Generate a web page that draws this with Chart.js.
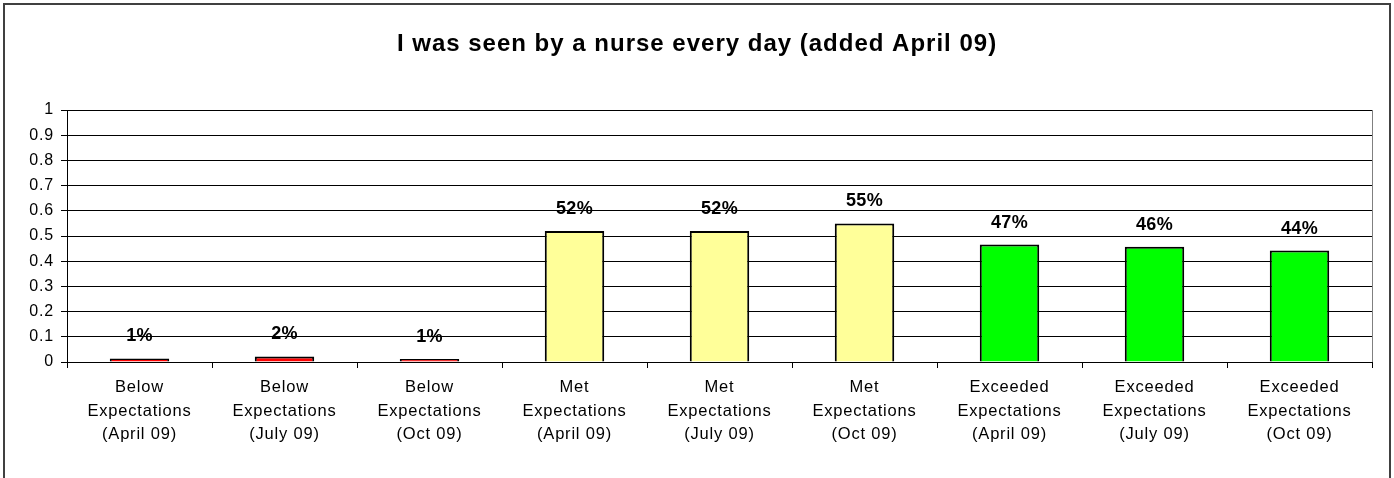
<!DOCTYPE html>
<html>
<head>
<meta charset="utf-8">
<script src="https://cdn.jsdelivr.net/npm/chart.js@4"></script>
<style>
  html, body { margin: 0; padding: 0; background: #fff; }
  #wrap { position: relative; width: 1394px; height: 478px; }
  #frame { position: absolute; left: 3px; top: 3px; width: 1384px; height: 480px;
           border: 2px solid #404040; border-bottom: none; pointer-events: none; }
</style>
</head>
<body>
<div id="wrap">
  <canvas id="chart" width="1394" height="478"></canvas>
  <div id="frame"></div>
</div>
<script>
const title = 'I was seen by a nurse every day (added April 09)';
const categories = [
    ['Below', 'Expectations', '(April 09)'],
    ['Below', 'Expectations', '(July 09)'],
    ['Below', 'Expectations', '(Oct 09)'],
    ['Met', 'Expectations', '(April 09)'],
    ['Met', 'Expectations', '(July 09)'],
    ['Met', 'Expectations', '(Oct 09)'],
    ['Exceeded', 'Expectations', '(April 09)'],
    ['Exceeded', 'Expectations', '(July 09)'],
    ['Exceeded', 'Expectations', '(Oct 09)']
];
const values = [0.014, 0.022, 0.007, 0.52, 0.52, 0.55, 0.466, 0.457, 0.442];
const barColors = ['#FF0000', '#FF0000', '#FF0000',
                   '#FFFF99', '#FFFF99', '#FFFF99',
                   '#00FF00', '#00FF00', '#00FF00'];
const yTicks = [0, 0.1, 0.2, 0.3, 0.4, 0.5, 0.6, 0.7, 0.8, 0.9, 1];

const FONT = 'Arial, "Liberation Sans", sans-serif';

// Excel-ish wide text: spacing for the axis labels
const spacing = {
    id: 'spacing',
    beforeDraw(chart) {
        chart.ctx.letterSpacing = '0.8px';
    }
};

// title + percentage labels above each bar
const texts = {
    id: 'texts',
    afterDatasetsDraw(chart) {
        const ctx = chart.ctx;
        const meta = chart.getDatasetMeta(0);
        ctx.save();
        ctx.fillStyle = '#000';
        ctx.textAlign = 'center';
        ctx.textBaseline = 'middle';

        ctx.letterSpacing = '0.3px';
        ctx.font = 'bold 18px ' + FONT;
        meta.data.forEach((bar, i) => {
            ctx.fillText(Math.round(values[i] * 100) + '%', bar.x, bar.y - 22);
        });

        ctx.letterSpacing = '1px';
        ctx.font = 'bold 24px ' + FONT;
        ctx.fillText(title, chart.width / 2, 44);
        ctx.restore();
    }
};

// right edge of the plot area
const plotEdge = {
    id: 'plotEdge',
    beforeDatasetsDraw(chart) {
        const { ctx, chartArea } = chart;
        ctx.save();
        ctx.strokeStyle = '#808080';
        ctx.lineWidth = 1;
        ctx.beginPath();
        ctx.moveTo(Math.round(chartArea.right) + 0.5, chartArea.top);
        ctx.lineTo(Math.round(chartArea.right) + 0.5, chartArea.bottom);
        ctx.stroke();
        ctx.restore();
    }
};

new Chart(document.getElementById('chart'), {
    type: 'bar',
    data: {
        labels: categories,
        datasets: [{
            data: values,
            backgroundColor: barColors,
            borderColor: '#000',
            borderWidth: 2,
            minBarLength: 3,
            barPercentage: 0.41,
            categoryPercentage: 1.0
        }]
    },
    options: {
        responsive: false,
        animation: false,
        layout: { padding: { left: 4, right: 22, top: 110, bottom: 0 } },
        plugins: {
            legend: { display: false },
            tooltip: { enabled: false },
            title: { display: false }
        },
        scales: {
            x: {
                grid: { offset: true, drawOnChartArea: false, color: '#000', tickLength: 6 },
                border: { color: '#000', width: 1 },
                ticks: {
                    color: '#000',
                    font: { family: FONT, size: 16.5, lineHeight: 1.42 },
                    padding: 8,
                    maxRotation: 0,
                    autoSkip: false
                },
                afterFit: s => { s.height = 116; }
            },
            y: {
                min: 0,
                max: 1,
                afterBuildTicks: s => { s.ticks = yTicks.map(v => ({ value: v })); },
                grid: { color: '#000', tickLength: 6 },
                border: { color: '#000', width: 1 },
                ticks: {
                    color: '#000',
                    font: { family: FONT, size: 16 },
                    padding: 7,
                    callback: v => String(v)
                },
                afterFit: s => { s.width = 63; }
            }
        }
    },
    plugins: [spacing, texts, plotEdge]
});
</script>
</body>
</html>
